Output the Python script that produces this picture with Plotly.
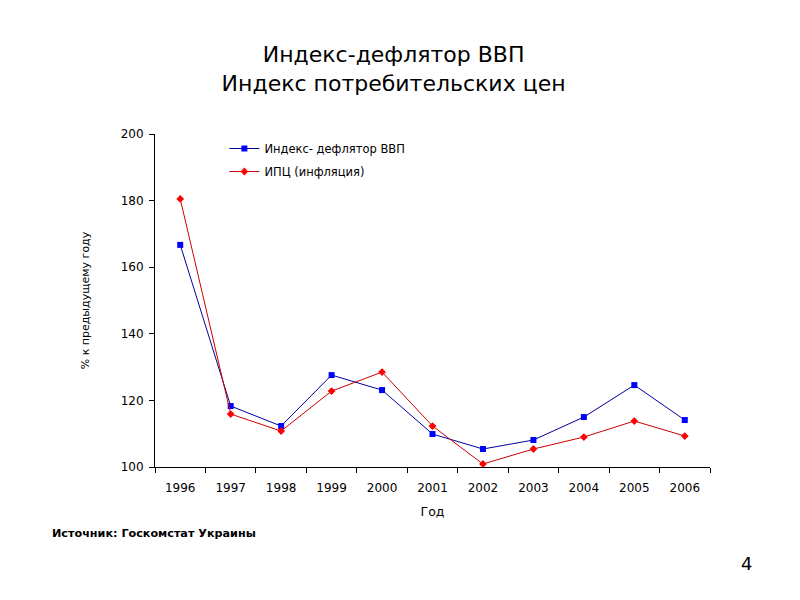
import plotly.graph_objects as go

years = ["1996", "1997", "1998", "1999", "2000", "2001", "2002", "2003", "2004", "2005", "2006"]
deflator = [166.7, 118.3, 112.3, 127.6, 123.1, 109.9, 105.4, 108.1, 115.0, 124.6, 114.1]
cpi = [180.5, 115.9, 110.8, 122.8, 128.5, 112.3, 100.9, 105.4, 109.0, 113.8, 109.3]
y_ticks = [100, 120, 140, 160, 180, 200]

FONT = "DejaVu Sans"

fig = go.Figure()
fig.add_trace(go.Scatter(
    x=years, y=deflator, mode="lines+markers", name="Индекс- дефлятор ВВП",
    legendgroup="g1",
    line=dict(color="#0000A0", width=1),
    marker=dict(symbol="square", size=6, color="#0000FF"),
))
fig.add_trace(go.Scatter(
    x=years, y=cpi, mode="lines+markers", name="ИПЦ (инфляция)",
    legendgroup="g2",
    line=dict(color="#CC0000", width=1),
    marker=dict(symbol="diamond", size=6, color="#FF0000"),
))

fig.update_layout(
    width=800, height=600,
    paper_bgcolor="white", plot_bgcolor="white",
    margin=dict(l=147, r=98, t=126, b=141),
    font=dict(family=FONT, color="black"),
    title=dict(
        text="Индекс-дефлятор ВВП<br>Индекс потребительских цен",
        x=0.482, xanchor="center", y=0.91, yanchor="top",
        font=dict(size=22, family=FONT, color="black"),
    ),
    showlegend=True,
    legend=dict(
        x=0.125, y=1.0, xanchor="left", yanchor="top",
        bgcolor="rgba(0,0,0,0)", font=dict(size=11.5, family=FONT),
        tracegroupgap=4, itemwidth=30,
    ),
    xaxis=dict(
        type="category", range=[-0.5, 10.5],
        showline=True, linecolor="black", linewidth=1,
        ticks="outside", ticklen=5, tickcolor="black",
        tickson="boundaries", showgrid=False, zeroline=False,
        ticklabelstandoff=10,
        tickfont=dict(size=12, family=FONT),
        title=dict(text="Год", font=dict(size=12.5, family=FONT), standoff=12),
    ),
    yaxis=dict(
        range=[100, 200], tickvals=y_ticks,
        showline=True, linecolor="black", linewidth=1,
        ticks="outside", ticklen=5, tickcolor="black",
        showgrid=False, zeroline=False,
        ticklabelstandoff=3,
        tickfont=dict(size=12, family=FONT),
        title=dict(text="% к предыдущему году", font=dict(size=11, family=FONT), standoff=28),
    ),
)

fig.add_annotation(
    text="<b>Источник: Госкомстат Украины</b>",
    xref="paper", yref="paper", x=-0.189, y=-0.199, xanchor="left", yanchor="middle",
    showarrow=False, font=dict(size=11.2, family=FONT),
)
fig.add_annotation(
    text="4", xref="paper", yref="paper", x=1.066, y=-0.29,
    xanchor="center", yanchor="middle", showarrow=False,
    font=dict(size=18, family=FONT),
)

fig.write_html("out.html")
